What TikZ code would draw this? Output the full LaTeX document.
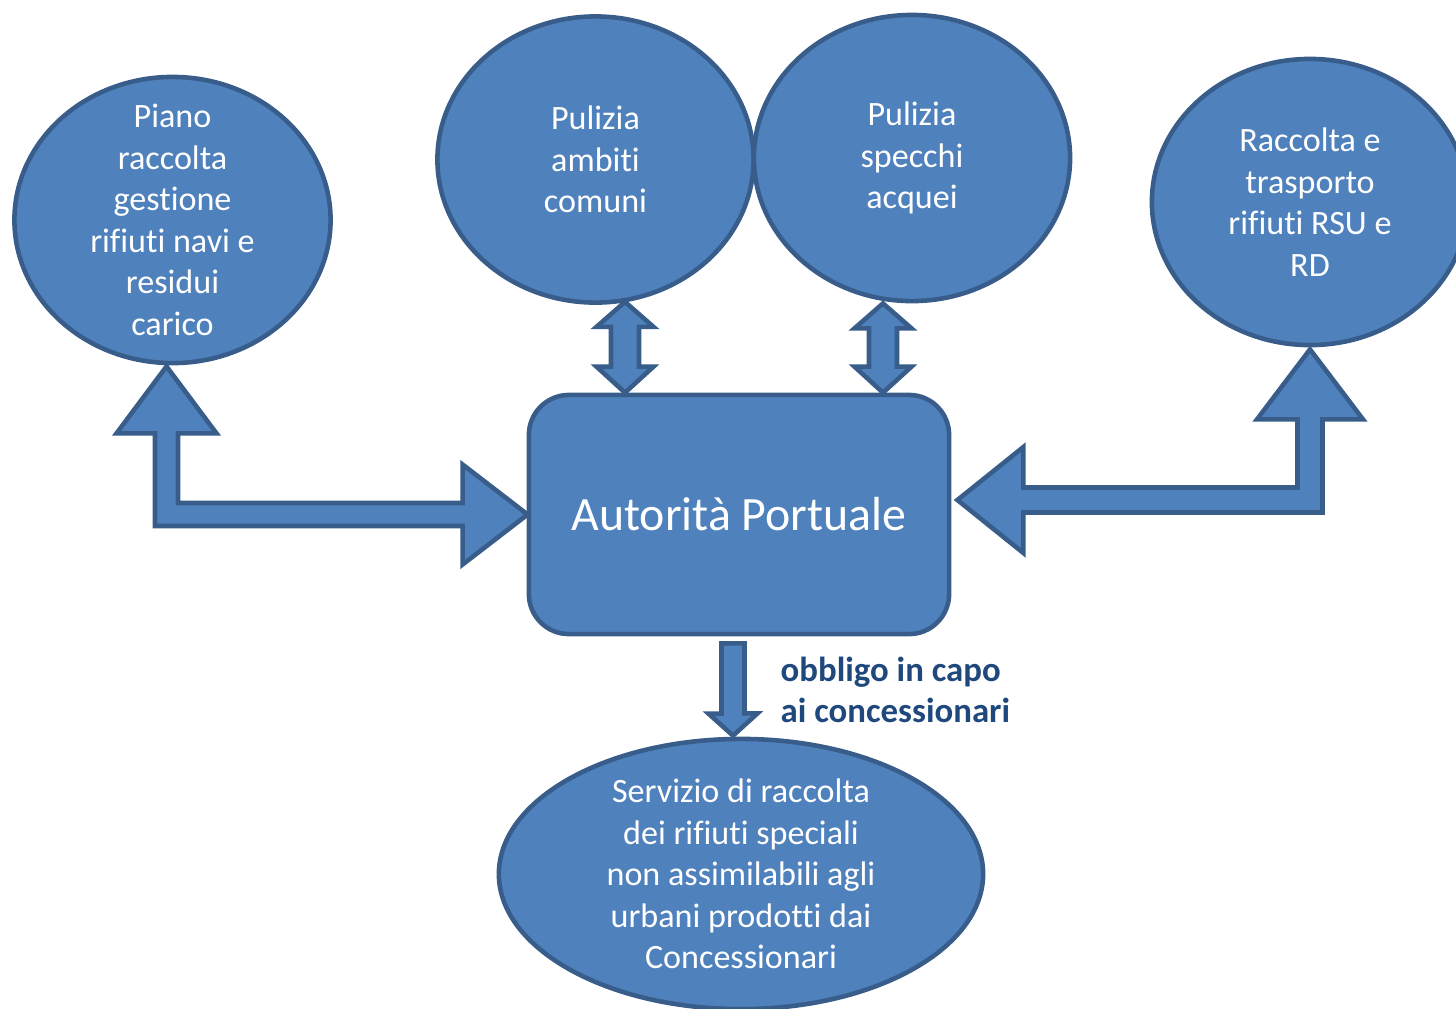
\documentclass[tikz,border=0pt]{standalone}
\usepackage{fontspec}
\setmainfont{Carlito}[Ligatures=NoCommon]
\usepackage{tikz}
\usepackage{xcolor}
\usetikzlibrary{calc,shapes,positioning}

\definecolor{boxfill}{HTML}{4F81BD}
\definecolor{boxline}{HTML}{385D8A}
\definecolor{labtext}{HTML}{1F497D}

\tikzset{
	bubble/.style={ellipse, draw=boxline, fill=boxfill, line width=1.3pt, inner sep=0pt,
		minimum width=3.16cm, minimum height=2.86cm, text=white, align=center,
		font=\fontsize{9.7}{11.8}\selectfont},
	authbox/.style={rectangle, rounded corners=0.4cm, draw=boxline, fill=boxfill, line width=1.3pt,
		minimum width=4.2cm, minimum height=2.39cm, text=white, font=\fontsize{13.6}{16}\selectfont},
	blockarr/.style={draw=boxline, fill=boxfill, line width=1.3pt, line join=miter},
	notetext/.style={text=labtext, align=left, inner sep=0pt, font=\bfseries\fontsize{9.9}{11.8}\selectfont}
}

\begin{document}
\begin{tikzpicture}[x=0.01cm,y=-0.01cm]
			\useasboundingbox (0,0) rectangle (1456,1008);

			% blocchi
			\node[bubble, inner ysep=-9pt] (piano) at (172.5,220){Piano\\raccolta\\gestione\\rifiuti navi e\\residui\\carico};
			\node[bubble] (ambiti) at (595.5,159.5){Pulizia\\ambiti\\comuni};
			\node[bubble] (specchi) at (912,158){Pulizia\\specchi\\acquei};
			\node[bubble] (raccolta) at (1310,202){Raccolta e\\trasporto\\rifiuti RSU e\\RD};
			\node[authbox] (ap) at (739,514.5){Autorità Portuale};
			\node[bubble, minimum width=4.84cm, minimum height=2.7cm] (serv) at (741,874)
				{Servizio di raccolta\\dei rifiuti speciali\\non assimilabili agli\\urbani prodotti dai\\Concessionari};

			% frecce
			\draw[blockarr] ($(piano.south)+(-6,1)$) -- ++(50,67) -- ++(-38.5,0)
				|- ($(ap.west)+(-64,-11.5)$) -- ++(0,-38.5) -- ($(ap.west)+(1,0)$) -- ++(-65,50)
				-- ++(0,-38.5) -| ($(piano.south)+(-17.5,68)$) -- ++(-38.5,0) -- cycle;

			\draw[blockarr] ($(raccolta.south)+(0,2)$) -- ++(53,70) -- ++(-40.5,0)
				|- ($(ap.east)+(72,-2)$) -- ++(0,40.5) -- ($(ap.east)+(6,-14.5)$) -- ++(66,-53)
				-- ++(0,40.5) -| ($(raccolta.south)+(-12.5,72)$) -- ++(-40.5,0) -- cycle;

			\coordinate (d1) at ($(ambiti.south)+(29.5,-3)$);
			\draw[blockarr] (d1) -- ++(28.5,25) -- ++(-14.5,0) -- ($(d1 |- ap.north)+(14,-26)$)
				-- ++(14.5,0) -- (d1 |- ap.north) -- ++(-28.5,-26) -- ++(14.5,0)
				-- ($(d1)+(-14,25)$) -- ++(-14.5,0) -- cycle;

			\coordinate (d2) at ($(specchi.south)+(-29,0)$);
			\draw[blockarr] (d2) -- ++(28.5,25) -- ++(-14.5,0) -- ($(d2 |- ap.north)+(14,-26)$)
				-- ++(14.5,0) -- (d2 |- ap.north) -- ++(-28.5,-26) -- ++(14.5,0)
				-- ($(d2)+(-14,25)$) -- ++(-14.5,0) -- cycle;

			\draw[blockarr] ($(ap.south)+(-17.5,7)$) -- ++(23,0) -- ++(0,70) -- ++(13,0)
				-- ($(serv.north)+(-8,-1)$) -- ++(-24.5,-22) -- ++(13,0) -- cycle;

			\node[notetext, anchor=west] (obbligo) at (780,690){obbligo in capo\\ai concessionari};

		\end{tikzpicture}
\end{document}
